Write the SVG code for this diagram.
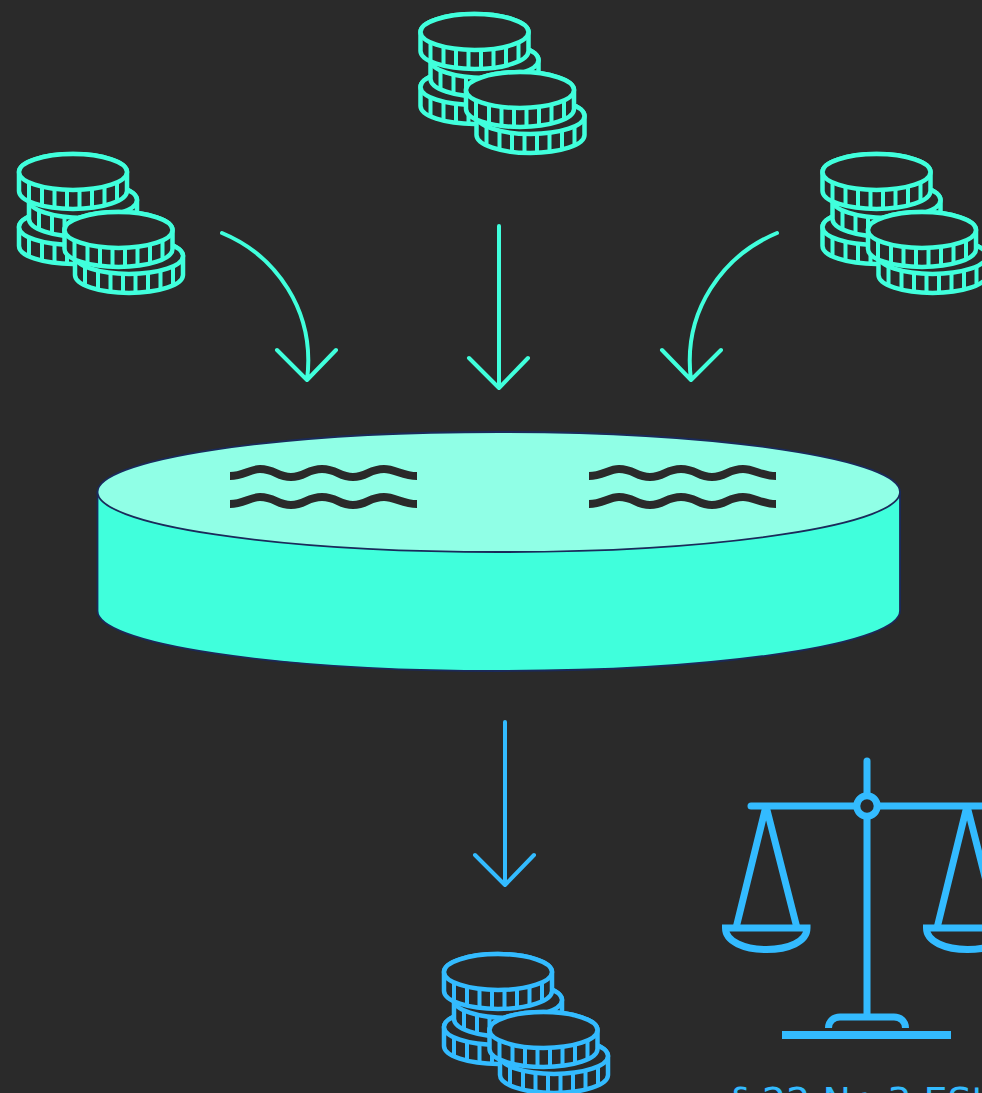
<svg xmlns="http://www.w3.org/2000/svg" width="982" height="1093" viewBox="0 0 982 1093">
<style>
.teal{color:#40ffdc}
.blue{color:#33bbff}
.coin{fill:#2a2a2a;stroke:currentColor;stroke-width:4.500;stroke-linejoin:round}
.tick{fill:none;stroke:currentColor;stroke-width:4}
.arrow{fill:none;stroke:currentColor;stroke-width:4;stroke-linecap:round;stroke-linejoin:round}
.wave{fill:none;stroke:#2a2a2a;stroke-width:8}
.sc{fill:none;stroke:#33bbff;stroke-width:7}
</style>
<defs>
<g id="coin">
<path class="coin" d="M-54,0A54,18 0 0 1 54,0V19A54,18 0 0 1 -54,19Z"/>
<ellipse class="coin" cx="0" cy="0" rx="54" ry="18"/>
<path class="tick" d="M-44,10V29M-31,14.600V33.600M-18.500,16.900V35.900M-6,17.900V36.900M6.500,17.900V36.900M19,16.800V35.800M31.500,14.500V33.500M44,10V29"/>
</g>
<g id="stack">
<use href="#coin" x="0" y="55"/>
<use href="#coin" x="10" y="28"/>
<use href="#coin" x="0" y="0"/>
<use href="#coin" x="56" y="84"/>
<use href="#coin" x="45.500" y="58"/>
</g>
<path id="w" class="wave" d="M0,0C13,0 20,-7 30,-7C45,-7 47,1 61,1C75,1 77,-7 92,-7C107,-7 109,1 123,1C137,1 139,-7 154,-7C165,-7 173,0 187,0"/>
</defs>
<rect width="982" height="1093" fill="#2a2a2a"/>

<g id="coins-top" class="teal"><use href="#stack" x="474.500" y="32"/></g>
<g id="coins-left" class="teal"><use href="#stack" x="73" y="172"/></g>
<g id="coins-right" class="teal"><use href="#stack" x="876.500" y="172"/></g>

<g id="connectors">
<g class="teal">
<path class="arrow" d="M222,233C275,255 316,310 307,380M277,350L307,380L336,350"/>
<path class="arrow" d="M499,226V388M469,358L499,388L528,358"/>
<path class="arrow" d="M777,233C724,255 682,310 691,380M662,350L691,380L721,350"/>
</g>
<g class="blue"><path class="arrow" d="M505,722V885M475,855L505,885L534,855"/></g>
</g>

<g id="pool">
<path d="M97.500,492V611A401.250,60 0 0 0 900,611V492Z" fill="#40ffdc" stroke="#1a2a5a" stroke-width="1.800"/>
<ellipse cx="498.750" cy="492" rx="401.250" ry="60" fill="#90ffe6" stroke="#1a2a5a" stroke-width="1.800"/>
<use href="#w" x="230" y="476"/>
<use href="#w" x="230" y="504"/>
<use href="#w" x="589" y="476"/>
<use href="#w" x="589" y="504"/>
</g>

<g id="coins-bottom" class="blue"><use href="#stack" x="498" y="972"/></g>

<g id="scales">
<path class="sc" stroke-linecap="round" d="M867,761V795"/>
<path class="sc" stroke-linecap="round" d="M751,806H856"/>
<path class="sc" d="M878,806H982"/>
<circle class="sc" cx="867" cy="806" r="10.200"/>
<path class="sc" d="M867,816V1017"/>
<path class="sc" stroke-width="6" d="M766,806L736,928M766,806L797,928"/>
<path class="sc" d="M725.500,928H807C807,942 788,949.500 766.500,949.500C745,949.500 725.500,942 725.500,928Z"/>
<path class="sc" stroke-width="6" d="M967,806L937,928M967,806L998,928"/>
<path class="sc" d="M926.500,928H1008C1008,942 989,949.500 967.500,949.500C946,949.500 926.500,942 926.500,928Z"/>
<path class="sc" d="M828.500,1028C828.500,1021 834,1017 840,1017H894C900,1017 905.500,1021 905.500,1028"/>
<rect x="782" y="1031" width="169" height="8" fill="#33bbff"/>
</g>

<text id="label" x="731" y="1114" font-family="'DejaVu Sans',sans-serif" font-size="38" fill="#33bbff">§ 22 Nr. 3 EStG</text>
</svg>
